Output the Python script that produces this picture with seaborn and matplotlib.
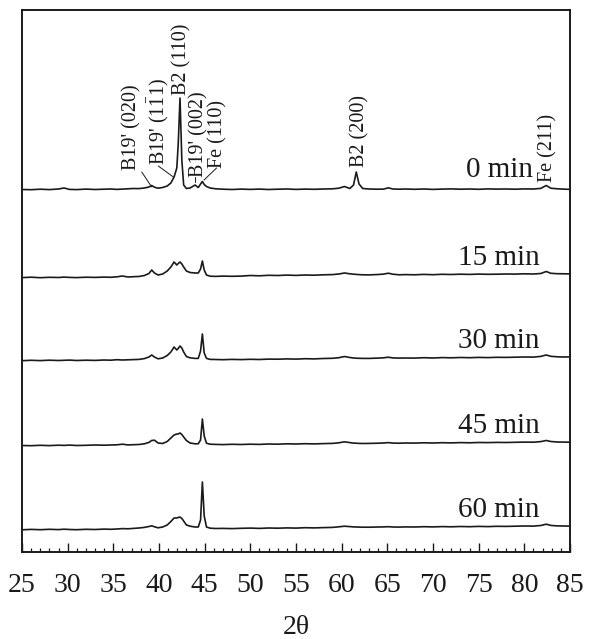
import matplotlib
matplotlib.use('Agg')
import matplotlib.pyplot as plt
from matplotlib.ticker import MultipleLocator
import numpy as np
import pandas as pd
import seaborn as sns

sns.set_theme(style='white')
plt.rcParams['font.family'] = ['Liberation Serif', 'DejaVu Serif']
plt.rcParams['mathtext.fontset'] = 'custom'
plt.rcParams['mathtext.rm'] = 'Liberation Serif'

# 2theta grid (deg), denser around the peaks
two_theta = [
    25, 26, 27, 28, 29, 29.6, 30.2, 31, 32, 33, 34,
    34.7, 35.4, 36, 36.6, 37.2, 37.8, 38.4, 38.9, 39.2, 39.5, 39.9,
    40.4, 40.9, 41.3, 41.65, 41.95, 42.1, 42.3, 42.5, 42.7, 43.0, 43.4,
    43.95, 44.3, 44.55, 44.75, 44.95, 45.2, 45.6, 46.2, 47, 48, 49,
    50, 51, 52, 53, 54, 55, 56, 57, 58, 59, 59.7, 60.3,
    60.9, 61.3, 61.6, 61.9, 62.3, 63, 64, 64.6, 65.1, 65.6, 66.3, 67,
    68, 69, 70, 71, 72, 73, 74, 75, 76, 77, 78,
    79, 80, 81, 81.8, 82.4, 82.9, 83.6, 84.3, 85,
]

# intensity (a.u.), above its own baseline
int_0min = [
    0.5, 0.3, 0.8, 0.4, 1.0, 2.0, 0.6, 0.4, 0.9, 0.5, 0.8,
    1.0, 0.6, 0.9, 1.2, 1.5, 1.4, 2.0, 3.0, 4.5, 2.8, 1.8,
    2.5, 4.0, 7.0, 13.0, 22.0, 45.0, 92.0, 30.0, 5.0, 1.5, 2.0,
    5.0, 2.5, 6.0, 8.5, 5.5, 3.5, 2.0, 1.2, 0.8, 0.5, 0.9,
    0.6, 0.9, 0.5, 0.8, 1.0, 0.6, 0.9, 0.7, 1.0, 1.2, 1.8, 3.5,
    1.5, 5.0, 18.0, 6.0, 1.5, 1.0, 0.8, 0.9, 2.2, 1.0, 0.8, 1.0,
    0.7, 1.0, 0.6, 0.9, 1.1, 0.8, 1.0, 0.7, 1.1, 0.9, 1.0,
    0.8, 1.1, 1.0, 1.6, 4.5, 1.8, 1.2, 0.9, 0.6,
]
int_15min = [
    0.4, 0.8, 0.3, 0.7, 0.5, 0.9, 0.6, 0.4, 0.8, 0.6, 0.9,
    0.7, 1.2, 2.0, 1.0, 1.3, 1.5, 2.5, 4.5, 8.0, 5.0, 3.0,
    4.0, 7.0, 11.0, 16.0, 13.0, 14.5, 16.0, 14.0, 11.0, 7.0, 5.5,
    5.0, 5.0, 9.0, 17.0, 8.0, 3.0, 1.8, 1.6, 1.9, 1.7, 1.9,
    2.5, 2.2, 2.7, 2.5, 2.9, 2.6, 3.0, 2.8, 3.2, 3.4, 4.0, 5.0,
    4.2, 3.8, 3.6, 3.4, 3.2, 3.1, 3.5, 3.9, 4.8, 3.8, 3.2, 3.4,
    3.2, 3.6, 3.3, 3.7, 3.5, 3.8, 3.6, 3.9, 3.7, 3.8, 4.0,
    3.9, 4.2, 4.0, 4.5, 6.5, 4.7, 4.3, 4.2, 4.1,
]
int_30min = [
    0.3, 0.7, 0.4, 0.8, 0.5, 0.7, 0.9, 0.5, 0.8, 0.6, 1.0,
    0.8, 1.3, 1.0, 1.2, 1.4, 1.6, 2.4, 4.0, 6.0, 4.0, 2.2,
    3.0, 5.5, 9.0, 14.0, 11.0, 12.5, 15.0, 13.0, 9.0, 4.5, 3.2,
    2.6, 2.6, 10.0, 27.0, 8.0, 2.6, 1.6, 1.5, 1.3, 1.6, 1.4,
    1.7, 1.5, 1.9, 1.8, 2.1, 1.9, 2.3, 2.1, 2.5, 2.7, 3.3, 4.5,
    3.5, 3.0, 2.8, 2.7, 2.6, 2.6, 2.9, 3.2, 3.8, 3.1, 2.9, 3.0,
    2.9, 3.3, 3.0, 3.4, 3.2, 3.5, 3.3, 3.6, 3.4, 3.7, 3.6,
    3.8, 4.0, 3.9, 4.6, 6.0, 4.7, 4.2, 4.0, 4.1,
]
int_45min = [
    0.5, 0.3, 0.7, 0.4, 0.8, 0.6, 0.9, 0.5, 0.7, 1.0, 0.8,
    1.0, 1.2, 1.8, 1.1, 1.3, 1.5, 2.2, 3.6, 5.5, 5.8, 3.0,
    2.5, 4.5, 8.0, 11.0, 12.0, 12.0, 13.0, 11.5, 9.0, 5.5, 3.0,
    2.2, 2.2, 6.0, 27.0, 10.0, 2.8, 1.8, 1.6, 1.4, 1.7, 1.5,
    1.8, 1.6, 2.0, 1.8, 2.2, 2.0, 2.3, 2.1, 2.4, 2.6, 3.2, 4.2,
    3.4, 2.9, 2.8, 2.6, 2.5, 2.6, 2.8, 3.0, 3.4, 2.9, 2.8, 3.0,
    2.9, 3.2, 3.0, 3.3, 3.1, 3.4, 3.2, 3.5, 3.4, 3.6, 3.5,
    3.7, 3.9, 3.8, 4.4, 5.5, 4.5, 4.0, 3.9, 3.8,
]
int_60min = [
    0.2, 0.6, 0.3, 0.7, 0.4, 0.8, 0.5, 0.3, 0.7, 0.5, 0.9,
    0.7, 1.0, 1.4, 1.2, 1.6, 2.0, 2.6, 3.5, 4.2, 3.2, 2.2,
    3.0, 5.0, 8.5, 12.0, 12.0, 12.5, 13.0, 11.5, 9.0, 5.0, 3.8,
    3.0, 3.0, 10.0, 48.0, 14.0, 3.0, 1.8, 1.5, 1.6, 1.4, 1.7,
    1.9, 1.6, 2.0, 1.8, 2.1, 1.9, 2.3, 2.1, 2.4, 2.6, 3.2, 3.8,
    3.4, 3.1, 3.0, 2.9, 2.8, 2.8, 3.0, 3.1, 3.3, 3.0, 2.9, 3.1,
    3.0, 3.3, 3.1, 3.4, 3.2, 3.5, 3.3, 3.6, 3.4, 3.7, 3.6,
    3.8, 4.0, 3.9, 4.5, 5.8, 4.6, 4.1, 4.0, 3.9,
]

labels = ['0 min', '15 min', '30 min', '45 min', '60 min']
patterns = [int_0min, int_15min, int_30min, int_45min, int_60min]
offsets = [362, 274, 191, 106, 22]   # vertical stacking
label_right = [80.9, 81.7, 81.7, 81.7, 81.7]

fig = plt.figure(figsize=(5.89, 6.39), dpi=100)
ax = fig.add_axes([22 / 589, 1 - 552 / 639, 548 / 589, 542 / 639])

for lab, vals, off, xr in zip(labels, patterns, offsets, label_right):
    y = np.array(vals) + off
    sns.lineplot(x=two_theta, y=y, ax=ax, color='k', lw=1.2, estimator=None, sort=False)
    ax.text(xr, off + 13, lab, ha='right', va='baseline', fontsize=21, color='k')

# peak assignments on the 0 min pattern
peak_tags = [
    ("B19' (020)", 37.04, 382, (38.11, 380, 39.20, 365)),
    ("B19' (1$\\bar{\\mathrm{1}}$1)", 39.89, 387, (39.92, 386, 41.57, 375)),
    ("B2 (110)", 42.52, 457, None),
    ("B19' (002)", 44.33, 375, (43.90, 375, 43.90, 370)),
    ("Fe (110)", 46.40, 384, (46.30, 384, 44.93, 372)),
    ("B2 (200)", 62.01, 385, None),
    ("Fe (211)", 82.59, 370, None),
]
for txt, tx, ty, seg in peak_tags:
    ax.text(tx, ty, txt, rotation=90, ha='center', va='bottom', fontsize=14.5, color='k')
    if seg is not None:
        ax.plot([seg[0], seg[2]], [seg[1], seg[3]], color='k', lw=0.7)

ax.set_xlim(25, 85)
ax.set_ylim(0, 542)
ax.set_yticks([])
ax.xaxis.set_major_locator(MultipleLocator(5))
ax.xaxis.set_minor_locator(MultipleLocator(1))
ax.tick_params(axis='x', which='both', direction='in', bottom=True, top=False,
               colors='k', labelsize=20, pad=15)
ax.tick_params(axis='x', which='major', length=6.5, width=1.0)
ax.tick_params(axis='x', which='minor', length=3.2, width=0.9)
ax.set_xlabel('2θ', fontsize=20, color='k', labelpad=12)
ax.set_ylabel('')
for sp in ax.spines.values():
    sp.set_color('k')
    sp.set_linewidth(1.4)

fig.savefig('out.png', dpi=100)
